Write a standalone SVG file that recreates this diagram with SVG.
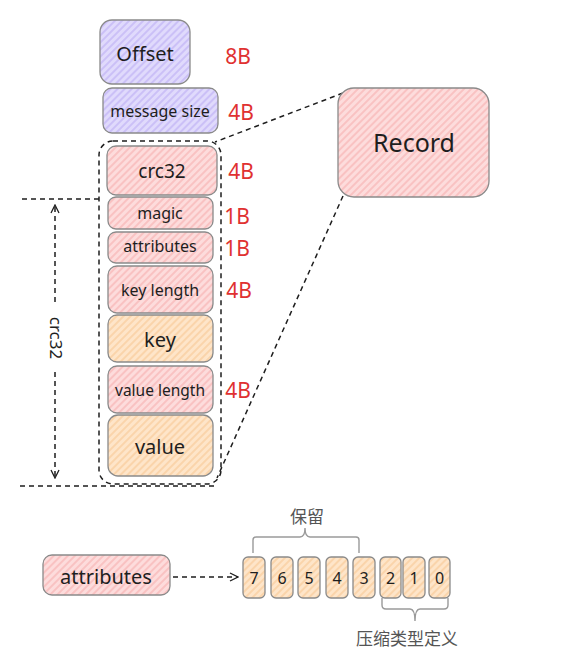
<svg xmlns="http://www.w3.org/2000/svg" width="565" height="650" viewBox="0 0 565 650">
<defs>
<pattern id="hPurple" patternUnits="userSpaceOnUse" width="5" height="5" patternTransform="rotate(-45)">
<rect width="5" height="5" fill="#e0dafc"/><line x1="0" y1="1" x2="5" y2="1" stroke="#c6baf6" stroke-width="1.6"/>
</pattern>
<pattern id="hPink" patternUnits="userSpaceOnUse" width="5" height="5" patternTransform="rotate(-45)">
<rect width="5" height="5" fill="#fddcdc"/><line x1="0" y1="1" x2="5" y2="1" stroke="#f8bcbc" stroke-width="1.6"/>
</pattern>
<pattern id="hOrange" patternUnits="userSpaceOnUse" width="5" height="5" patternTransform="rotate(-45)">
<rect width="5" height="5" fill="#fee5c9"/><line x1="0" y1="1" x2="5" y2="1" stroke="#f9d0a3" stroke-width="1.6"/>
</pattern>
<marker id="chev" viewBox="0 0 10 10" refX="9" refY="5" markerWidth="10" markerHeight="10" markerUnits="userSpaceOnUse" orient="auto">
<path d="M1 1 L9 5 L1 9" fill="none" stroke="#1e1e1e" stroke-width="1.3"/>
</marker>
<style>
.box{stroke:#8a8a8a;stroke-width:1.3}
.pu{fill:url(#hPurple)}
.pk{fill:url(#hPink)}
.or{fill:url(#hOrange)}
.t{font-family:"Noto Sans","Liberation Sans",sans-serif;fill:#1e1e1e;text-anchor:middle;dominant-baseline:central}
.r{font-family:"Noto Sans","Liberation Sans",sans-serif;fill:#e03131;font-size:21px;text-anchor:middle;dominant-baseline:central}
.cjk{font-family:"Noto Sans CJK SC",sans-serif;fill:#555;font-size:17px;text-anchor:middle;dominant-baseline:central}
.dash{fill:none;stroke:#1e1e1e;stroke-width:1.5;stroke-dasharray:5 4}
.br{fill:none;stroke:#9a9a9a;stroke-width:1.4}
</style>
</defs>

<g id="connectors">
<rect class="dash" x="99" y="141" width="122" height="343" rx="14"/>
<path class="dash" d="M343 93 L215 142"/>
<path class="dash" d="M343 196 L217 478"/>
<path class="dash" d="M22 199 H99"/>
<path class="dash" d="M20 486 H215"/>
<path class="dash" d="M55 302 V205" marker-end="url(#chev)"/>
<path class="dash" d="M55 372 V478" marker-end="url(#chev)"/>
<path class="dash" d="M173 577 H238" marker-end="url(#chev)"/>
<path class="br" d="M253 553 V540 Q253 537 256 537 H300 Q305 537 305 528 Q305 537 310 537 H356 Q359 537 359 540 V553"/>
<path class="br" d="M382 598 V605 Q382 609 386 609 H410 Q415 609 415 621 Q415 609 420 609 H444 Q448 609 448 605 V598"/>
</g>

<g id="offset"><rect class="box pu" x="100" y="20" width="90" height="64" rx="12"/><text class="t" x="145" y="53" font-size="20">Offset</text></g>
<text class="r" x="238" y="56">8B</text>
<g id="message-size"><rect class="box pu" x="103" y="88" width="115" height="45" rx="9"/><text class="t" x="160" y="111" font-size="16">message size</text></g>
<text class="r" x="241" y="112">4B</text>

<g id="crc32"><rect class="box pk" x="107" y="146" width="110" height="49" rx="9"/><text class="t" x="162" y="171" font-size="19">crc32</text></g>
<text class="r" x="241" y="171">4B</text>
<g id="magic"><rect class="box pk" x="108" y="197" width="105" height="32" rx="8"/><text class="t" x="160" y="213" font-size="16">magic</text></g>
<text class="r" x="237" y="216">1B</text>
<g id="attributes"><rect class="box pk" x="108" y="232" width="105" height="31" rx="8"/><text class="t" x="160" y="246" font-size="16">attributes</text></g>
<text class="r" x="237" y="248">1B</text>
<g id="key-length"><rect class="box pk" x="108" y="266" width="105" height="47" rx="9"/><text class="t" x="160" y="290" font-size="16">key length</text></g>
<text class="r" x="239" y="290">4B</text>
<g id="key"><rect class="box or" x="108" y="315" width="105" height="47" rx="9"/><text class="t" x="160" y="339" font-size="20">key</text></g>
<g id="value-length"><rect class="box pk" x="108" y="366" width="105" height="47" rx="9"/><text class="t" x="160" y="390" font-size="15.5">value length</text></g>
<text class="r" x="238" y="390">4B</text>
<g id="value"><rect class="box or" x="108" y="415" width="105" height="61" rx="10"/><text class="t" x="160" y="446" font-size="20">value</text></g>

<text class="t" x="56" y="338" font-size="17" transform="rotate(90 56 338)">crc32</text>

<g id="record"><rect class="box pk" x="338" y="88" width="151" height="109" rx="16"/><text class="t" x="414" y="142" font-size="25">Record</text></g>

<g id="attributes-bottom"><rect class="box pk" x="43" y="555" width="127" height="40" rx="9"/><text class="t" x="106" y="576" font-size="20">attributes</text></g>

<g id="bits">
<rect class="box or" x="243" y="557" width="22" height="41" rx="5"/><text class="t" x="254" y="578" font-size="16">7</text>
<rect class="box or" x="271" y="557" width="22" height="41" rx="5"/><text class="t" x="282" y="578" font-size="16">6</text>
<rect class="box or" x="298" y="557" width="22" height="41" rx="5"/><text class="t" x="309" y="578" font-size="16">5</text>
<rect class="box or" x="326" y="557" width="22" height="41" rx="5"/><text class="t" x="337" y="578" font-size="16">4</text>
<rect class="box or" x="353" y="557" width="22" height="41" rx="5"/><text class="t" x="364" y="578" font-size="16">3</text>
<rect class="box or" x="380" y="557" width="21" height="41" rx="5"/><text class="t" x="390.5" y="578" font-size="16">2</text>
<rect class="box or" x="403" y="557" width="22" height="41" rx="5"/><text class="t" x="414" y="578" font-size="16">1</text>
<rect class="box or" x="429" y="557" width="21" height="41" rx="5"/><text class="t" x="439.5" y="578" font-size="16">0</text>
</g>

<text class="cjk" x="307" y="515">保留</text>
<text class="cjk" x="407" y="637">压缩类型定义</text>
</svg>
